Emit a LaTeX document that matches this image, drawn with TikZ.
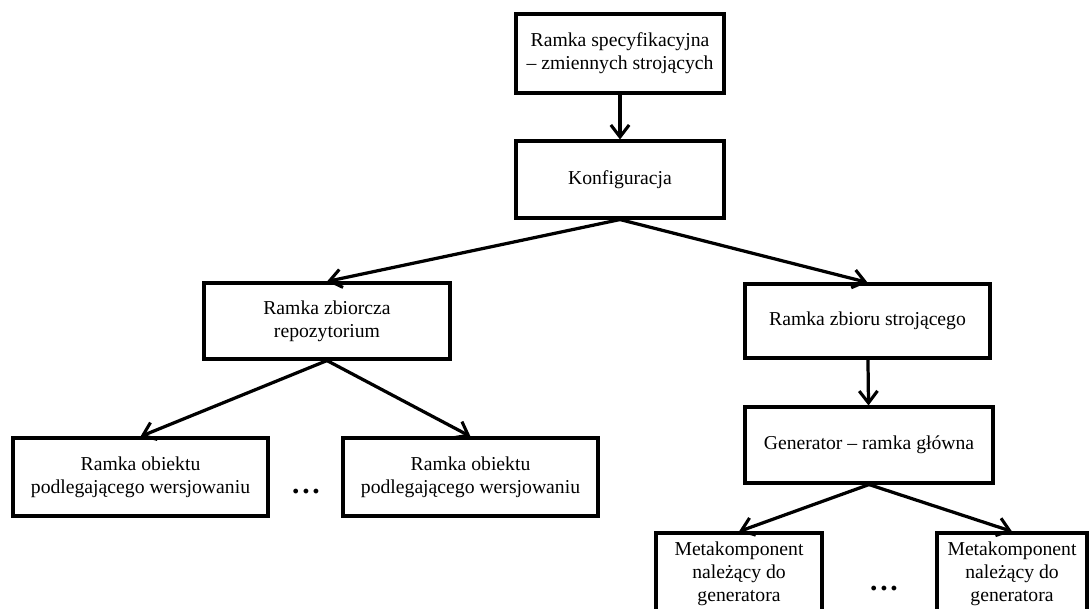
\documentclass[tikz,border=0pt]{standalone}
\usepackage{fontspec}
\setmainfont{Liberation Serif}
\usetikzlibrary{arrows.meta,positioning}
\tikzset{
  ramka/.style={draw, line width=2.2pt, align=center, inner sep=2pt,
    font=\fontsize{14}{16.5}\selectfont},
  kropki/.style={font=\bfseries\fontsize{21}{21}\selectfont},
}
\begin{document}
\begin{tikzpicture}[->,>={Straight Barb[length=8.5pt,width=13pt,line width=2.2pt]},
     line width=2.3pt]
    \clip (0,0) rectangle (27.275,-15.2);
    \node[ramka, minimum width=5.2cm, minimum height=1.975cm] (spec) at (15.5, -1.3375) {Ramka specyfikacyjna\\ -- zmiennych strojących};
    \node[ramka, minimum width=5.2cm, minimum height=1.925cm] (konf) at (15.5, -4.4875) {Konfiguracja};
    \node[ramka, minimum width=6.15cm, minimum height=1.9cm] (repo) at (8.175, -8.025) {Ramka zbiorcza\\ repozytorium};
    \node[ramka, minimum width=6.125cm, minimum height=1.85cm] (zbior) at (21.6875, -8.025) {Ramka zbioru strojącego};
    \node[ramka, minimum width=6.2cm, minimum height=1.9cm] (gen) at (21.725, -11.125) {Generator -- ramka główna};
    \node[ramka, minimum width=6.375cm, minimum height=1.95cm] (obj1) at (3.5125, -11.925) {Ramka obiektu\\ podlegającego wersjowaniu};
    \node[ramka, minimum width=6.375cm, minimum height=1.95cm] (obj2) at (11.7625, -11.925) {Ramka obiektu\\ podlegającego wersjowaniu};
    \node[ramka, minimum width=4.15cm, minimum height=2.025cm] (meta1) at (18.475, -14.3375) {Metakomponent\\ należący do\\ generatora};
    \node[ramka, minimum width=3.75cm, minimum height=2.025cm] (meta2) at (25.3, -14.3375) {Metakomponent\\ należący do\\ generatora};
    \node[kropki] (kropki1) at (7.65, -12.3) {.\kern2pt.\kern2pt.};
    \node[kropki] (kropki2) at (22.1, -14.72) {.\kern2pt.\kern2pt.};
    \path (spec) edge (konf);
    \path (konf.south) edge (repo.north);
    \path (konf.south) edge (zbior.north);
    \path (repo.south) edge (obj1.north);
    \path (repo.south) edge (obj2.north);
    \path (zbior) edge (gen);
    \path (gen.south) edge (meta1.north);
    \path (gen.south) edge (meta2.north);
\end{tikzpicture}
\end{document}
